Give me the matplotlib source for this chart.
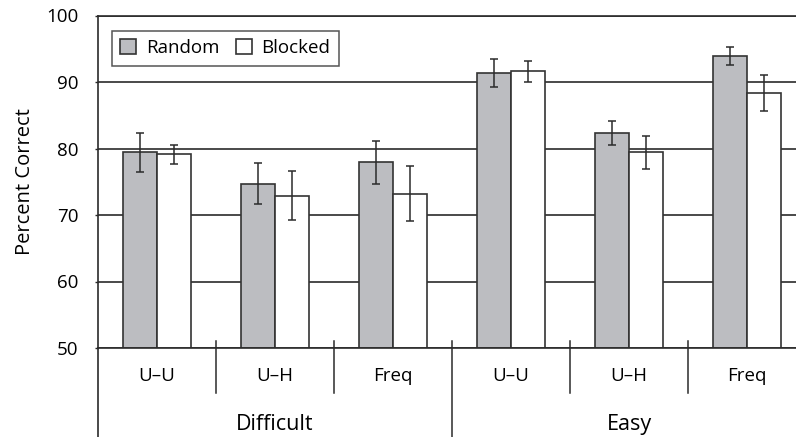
import matplotlib.pyplot as plt
import matplotlib.transforms as mtransforms
import numpy as np

plt.rcParams['font.family'] = ['Open Sans', 'DejaVu Sans']

groups = ["Difficult", "Easy"]
conditions = ["U\u2013U", "U\u2013H", "Freq"]
random_vals = [79.4, 74.7, 77.9, 91.3, 82.4, 93.9]
random_err = [2.9, 3.1, 3.3, 2.1, 1.8, 1.4]
blocked_vals = [79.1, 72.9, 73.2, 91.6, 79.4, 88.3]
blocked_err = [1.4, 3.7, 4.1, 1.6, 2.5, 2.7]

fig = plt.figure(figsize=(7.96, 4.37), dpi=100)
ax = fig.add_axes([98 / 796, 1 - 348 / 437, 698 / 796, 332.5 / 437])

dark = "#2b2b2b"
x = np.arange(len(random_vals)) + 0.5
w = 0.29

# Gitterlinien hinter den Balken
ax.set_axisbelow(True)
ax.yaxis.grid(True, color=dark, linewidth=1.2)

ax.bar(x - w / 2, np.array(random_vals) - 50, w, bottom=50, color="#bcbdc1",
       edgecolor="#333333", linewidth=1.2, label="Random", zorder=2)
ax.bar(x + w / 2, np.array(blocked_vals) - 50, w, bottom=50, color="white",
       edgecolor="#333333", linewidth=1.2, label="Blocked", zorder=2)
ax.errorbar(x - w / 2, random_vals, yerr=random_err, fmt="none", ecolor=dark,
            elinewidth=1.1, capsize=3, capthick=1.1, zorder=3)
ax.errorbar(x + w / 2, blocked_vals, yerr=blocked_err, fmt="none", ecolor=dark,
            elinewidth=1.1, capsize=3, capthick=1.1, zorder=3)

ax.set_ylim(50, 100)
ax.set_xlim(0, 698 / 118)
ax.set_yticks([50, 60, 70, 80, 90, 100])
ax.set_xticks([])
ax.tick_params(axis="y", length=2, width=1, color=dark, pad=12, labelsize=13.5)

for s in ["left", "bottom", "top"]:
    ax.spines[s].set_color(dark)
    ax.spines[s].set_linewidth(1.2)
ax.spines["right"].set_visible(False)

ax.set_ylabel("Percent Correct", fontsize=14.5)
ax.yaxis.set_label_coords(-0.09, 0.5)

# Kategorien unter der Achse
trans = mtransforms.blended_transform_factory(ax.transData, ax.transAxes)
ax.plot([0, 0], [0, -0.27], color=dark, lw=1.2, transform=trans, clip_on=False)
for b in [1, 2, 4, 5]:
    ax.plot([b, b], [0.021, -0.135], color=dark, lw=1.1, transform=trans, clip_on=False)
ax.plot([3, 3], [0.021, -0.27], color=dark, lw=1.1, transform=trans, clip_on=False)

for i, xi in enumerate(x):
    ax.text(xi, -0.084, conditions[i % 3], transform=trans, ha="center",
            va="center", fontsize=13.5)
for i, g in enumerate(groups):
    ax.text(1.5 + 3 * i, -0.23, g, transform=trans, ha="center",
            va="center", fontsize=15.5)

leg = ax.legend(loc="upper left", bbox_to_anchor=(14 / 698, 317 / 332.5),
                borderaxespad=0, ncol=2, fancybox=False, fontsize=13.5,
                handlelength=0.85, handleheight=0.85, handletextpad=0.5,
                columnspacing=0.9, borderpad=0.45)
leg.get_frame().set_edgecolor(dark)
leg.get_frame().set_linewidth(1.1)

fig.savefig("out.png", dpi=100)
